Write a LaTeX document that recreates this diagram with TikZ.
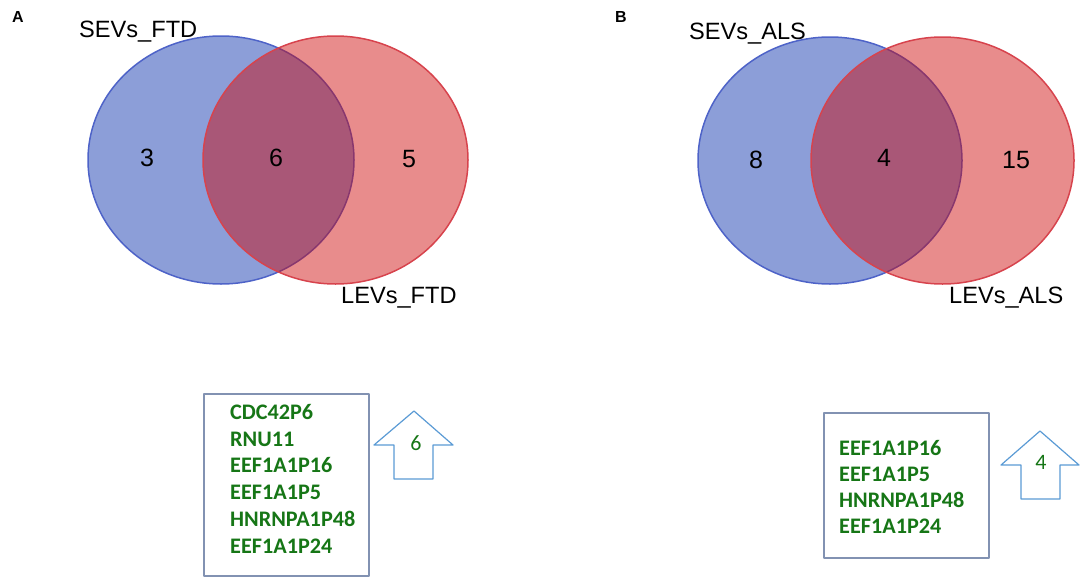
\documentclass[tikz,border=0pt]{standalone}
\usepackage{fontspec}
\setmainfont{Liberation Sans}
\newfontfamily\calfont{Carlito}
\definecolor{setblue}{RGB}{140,158,216}
\definecolor{setblueline}{RGB}{78,99,200}
\definecolor{setred}{RGB}{205,5,5}
\definecolor{setredline}{RGB}{215,67,77}
\definecolor{genegreen}{RGB}{22,118,22}
\definecolor{boxgray}{RGB}{130,146,178}
\definecolor{arrowblue}{RGB}{91,155,213}
\tikzset{
  vennlabel/.style={font=\fontsize{23.6}{26}\selectfont, inner sep=0pt, anchor=base west},
  vennnum/.style={font=\fontsize{25}{28}\selectfont, inner sep=0pt},
  panel/.style={font=\bfseries\fontsize{16}{18}\selectfont, inner sep=0pt, anchor=base west},
  gene/.style={font=\calfont\bfseries\fontsize{22.2}{26}\selectfont, text=genegreen, inner sep=0pt, anchor=base west},
  upnum/.style={font=\calfont\fontsize{22}{24}\selectfont, text=genegreen, inner sep=0pt},
  listbox/.style={draw=boxgray, line width=1.2pt},
  uparrow/.style={draw=arrowblue, line width=1.2pt, fill=white},
}
\begin{document}
\begin{tikzpicture}[x=1pt,y=-1pt,line join=round,line cap=round]
	\useasboundingbox (0,0) rectangle (1084,581);
	% panel A
	\node[panel] (pA) at (12,22) {A};
	\filldraw[fill=setblue, draw=setblueline, line width=1.5pt] (221,160) ellipse [x radius=133pt, y radius=124pt];
	\fill[setred, fill opacity=0.46] (335.5,160) ellipse [x radius=132.5pt, y radius=124pt];
	\draw[setredline, line width=1.5pt] (335.5,160) ellipse [x radius=132.5pt, y radius=124pt];
	\node[vennlabel] (sevftd) at (79,37) {SEVs\_FTD};
	\node[vennlabel] (levftd) at (341,303) {LEVs\_FTD};
	\node[vennnum] (nA1) at (147,158) {3};
	\node[vennnum] (nA2) at (276,158) {6};
	\node[vennnum] (nA3) at (409,159) {5};
	\draw[listbox] (204,394) rectangle (369,576);
	\foreach \g [count=\i] in {CDC42P6,RNU11,EEF1A1P16,EEF1A1P5,HNRNPA1P48,EEF1A1P24}
		\node[gene] (ftd\i) at (230,{419.5+26.7*(\i-1)}) {\g};
	\draw[uparrow] (414,411)--(453,445)--(433,445)--(433,479)--(394,479)--(394,445)--(374,445)--cycle;
	\node[upnum] (upA) at (416,443) {6};
	% panel B
	\node[panel] (pB) at (615,22) {B};
	\filldraw[fill=setblue, draw=setblueline, line width=1.5pt] (830,160.5) ellipse [x radius=132pt, y radius=123.5pt];
	\fill[setred, fill opacity=0.46] (942.5,160.5) ellipse [x radius=131.5pt, y radius=123.5pt];
	\draw[setredline, line width=1.5pt] (942.5,160.5) ellipse [x radius=131.5pt, y radius=123.5pt];
	\node[vennlabel] (sevals) at (689,39) {SEVs\_ALS};
	\node[vennlabel] (levals) at (949,303) {LEVs\_ALS};
	\node[vennnum] (nB1) at (756,160) {8};
	\node[vennnum] (nB2) at (884,158) {4};
	\node[vennnum] (nB3) at (1016,160) {15};
	\draw[listbox] (824,413) rectangle (989,558);
	\foreach \g [count=\i] in {EEF1A1P16,EEF1A1P5,HNRNPA1P48,EEF1A1P24}
		\node[gene] (als\i) at (839,{455.5+26*(\i-1)}) {\g};
	\draw[uparrow] (1040,431)--(1079,465)--(1060,465)--(1060,499)--(1021,499)--(1021,465)--(1001,465)--cycle;
	\node[upnum] (upB) at (1041,462) {4};
\end{tikzpicture}
\end{document}
